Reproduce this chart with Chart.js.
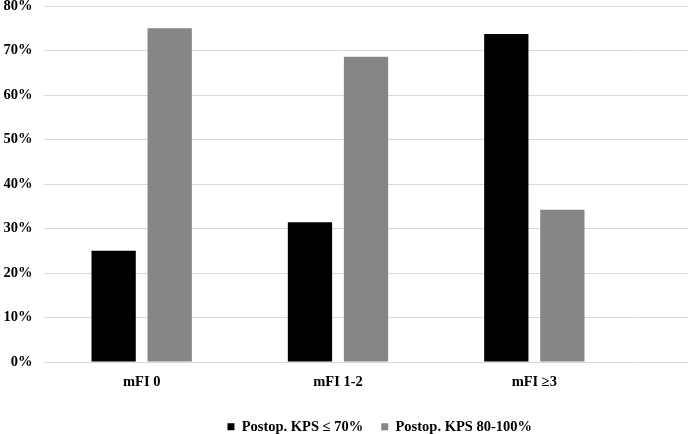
<!DOCTYPE html>
<html>
<head>
<meta charset="utf-8">
<script src="https://cdn.jsdelivr.net/npm/chart.js@4/dist/chart.umd.min.js"></script>
<style>
  html, body { margin: 0; padding: 0; background: #fff; }
  #wrap { width: 688px; height: 434px; }
</style>
</head>
<body>
<div id="wrap"><canvas id="chart"></canvas></div>
<script>
const categories = ['mFI 0', 'mFI 1-2', 'mFI \u22653']
const kpsLow = [25.0, 31.4, 73.7]
const kpsHigh = [75.0, 68.6, 34.2]
const seriesNames = ['Postop. KPS \u2264 70%', 'Postop. KPS 80-100%']

const GRID = '#d9d9d9'
const FONT = { family: 'Liberation Serif', size: 14.5, weight: 'bold' }

// excel draws the gridlines past the last category, so carry them to the edge
const gridToEdge = {
  id: 'gridToEdge',
  beforeDatasetsDraw(chart) {
    const { ctx, chartArea, scales } = chart
    ctx.save()
    ctx.strokeStyle = GRID
    ctx.lineWidth = 1
    for (const t of scales.y.ticks) {
      const y = Math.round(scales.y.getPixelForValue(t.value) - 0.5) + 0.5
      ctx.beginPath()
      ctx.moveTo(chartArea.right, y)
      ctx.lineTo(chart.width, y)
      ctx.stroke()
    }
    ctx.restore()
  },
}

// legend sits right of centre in the original
const legendShift = {
  id: 'legendShift',
  afterLayout(chart) {
    chart.legend.left += 62
    chart.legend.right += 62
  },
}

new Chart(document.getElementById('chart'), {
  type: 'bar',
  data: {
    labels: categories,
    datasets: [
      {
        label: seriesNames[0],
        data: kpsLow,
        backgroundColor: '#000000',
      },
      {
        label: seriesNames[1],
        data: kpsHigh,
        backgroundColor: '#868686',
      },
    ],
  },
  options: {
    responsive: true,
    maintainAspectRatio: false,
    animation: false,
    categoryPercentage: 0.571,
    barPercentage: 0.79,
    layout: {
      padding: { left: 3, right: 55.5, top: 6, bottom: -10 },
    },
    scales: {
      x: {
        grid: { display: false, drawTicks: false },
        border: { display: false },
        ticks: { color: '#000', font: FONT, padding: 11 },
      },
      y: {
        min: 0,
        max: 80,
        afterFit: (scale) => {
          scale.width = 40.5
          scale.paddingTop = 0
          scale.paddingBottom = 0
        },
        grid: { color: GRID, drawTicks: false },
        border: { display: false },
        ticks: {
          stepSize: 10,
          color: '#000',
          font: FONT,
          padding: 11,
          callback: (v) => v + '%',
        },
      },
    },
    plugins: {
      legend: {
        position: 'bottom',
        labels: {
          color: '#000',
          font: FONT,
          boxWidth: 7,
          boxHeight: 7,
          padding: 18,
        },
      },
      tooltip: { enabled: false },
    },
  },
  plugins: [gridToEdge, legendShift],
})
</script>
</body>
</html>
